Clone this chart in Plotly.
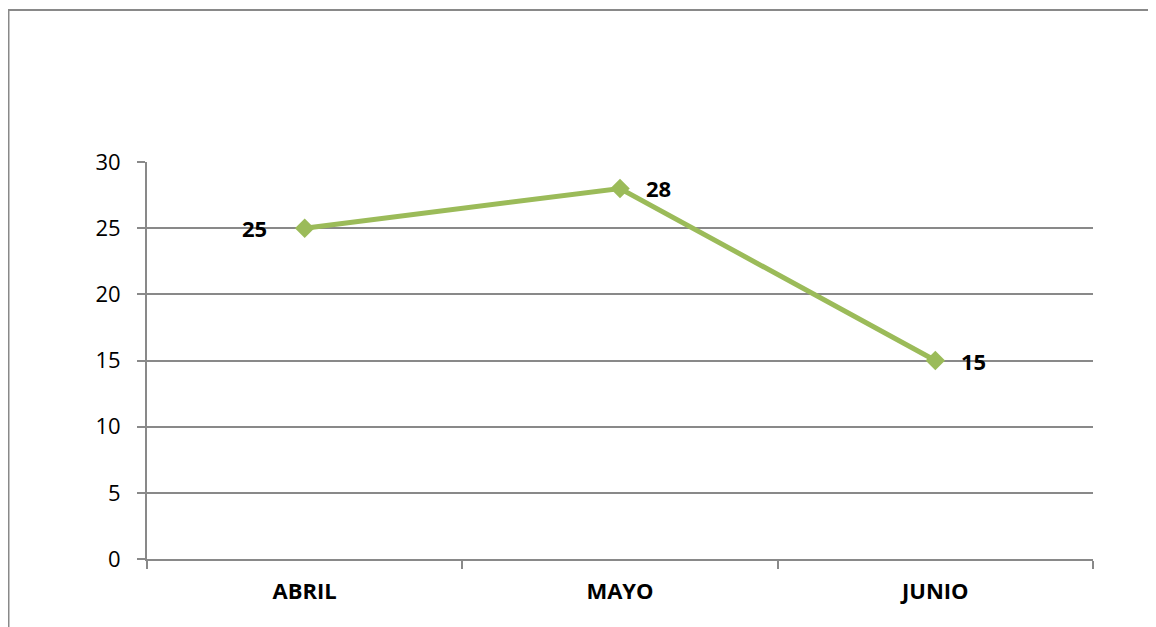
import plotly.graph_objects as go

months = ["ABRIL", "MAYO", "JUNIO"]
values = [25, 28, 15]
label_sides = ["left", "right", "right"]

LINE = "#9BBB59"
GRID = "#898989"
FONT = "Open Sans, Lato, sans-serif"

fig = go.Figure()
fig.add_trace(go.Scatter(
    x=months, y=values, mode="lines+markers",
    line=dict(color=LINE, width=5),
    marker=dict(symbol="diamond", size=15, color=LINE),
    showlegend=False, hoverinfo="skip",
))

# data labels beside the points
for m, v, side in zip(months, values, label_sides):
    fig.add_annotation(
        x=m, y=v, text=f"<b>{v}</b>", showarrow=False,
        xanchor="right" if side == "left" else "left",
        xshift=-36 if side == "left" else 24,
        font=dict(size=22, color="black", family=FONT),
    )

# outer chart border (open on right/bottom like the crop)
# page body has an 8px margin, so figure coords are page coords - 8
W, H = 946, 397
L, T = 139, 154
x0 = (0.5 - L) / W
y0 = 1 + (T - 2) / H
fig.add_shape(
    type="path", xref="paper", yref="paper",
    path=f"M {x0},-0.3 L {x0},{y0} L 1.2,{y0}",
    line=dict(color=GRID, width=2),
)

fig.update_layout(
    width=1148, height=619,
    margin=dict(l=L, r=1148 - L - W, t=T, b=619 - T - H),
    paper_bgcolor="white", plot_bgcolor="white",
    font=dict(family=FONT, color="black", size=20),
    xaxis=dict(
        type="category", range=[-0.5, 2.5],
        showline=True, linecolor=GRID, linewidth=2,
        ticks="outside", tickson="boundaries", ticklen=8, tickcolor=GRID, tickwidth=2,
        showgrid=False, tickfont=dict(size=22, weight="bold"),
        ticklabelstandoff=12,
    ),
    yaxis=dict(
        range=[0, 30], dtick=5, tick0=0,
        showline=True, linecolor=GRID, linewidth=2,
        ticks="outside", ticklen=8, tickcolor=GRID, tickwidth=2,
        showgrid=True, gridcolor=GRID, gridwidth=1.5,
        zeroline=False, tickfont=dict(size=22),
        ticklabelstandoff=12,
    ),
)

fig.write_html("out.html")
